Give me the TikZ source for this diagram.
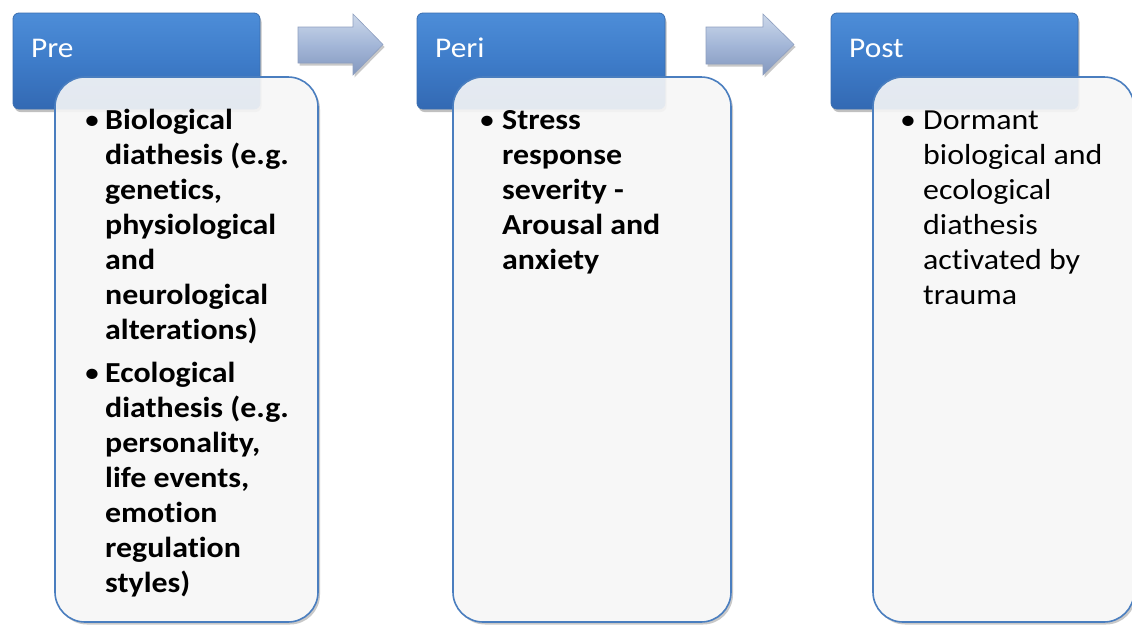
\documentclass[tikz,border=0pt]{standalone}
\usepackage{fontspec}
\setmainfont{Carlito}[Ligatures={NoCommon}, FakeStretch=1.1]
\usetikzlibrary{shadows}
\definecolor{hdrtop}{HTML}{4D8DD8}
\definecolor{hdrmid}{HTML}{3E7CC9}
\definecolor{hdrbot}{HTML}{3369B3}
\definecolor{hdrline}{HTML}{3A6EB0}
\definecolor{boxfill}{HTML}{F7F7F7}
\definecolor{boxline}{HTML}{4A7EBF}
\definecolor{arrtop}{HTML}{CCD8EA}
\definecolor{arrmid}{HTML}{A4B7D8}
\definecolor{arrbot}{HTML}{8398BE}
\definecolor{arrline}{HTML}{8E9FC0}
\tikzset{
  hdrbox/.style={rounded corners=6pt, draw=hdrline, line width=0.8pt,
    top color=hdrtop, bottom color=hdrbot, middle color=hdrmid,
    drop shadow={shadow xshift=1.5pt, shadow yshift=-3pt, opacity=0.35, fill=black!70}},
  bodybase/.style={rounded corners=30pt, fill=boxfill,
    drop shadow={shadow xshift=2pt, shadow yshift=-2.5pt, opacity=0.3, fill=black!70}},
  bodybox/.style={rounded corners=30pt, draw=boxline, line width=1.6pt,
    fill=boxfill, fill opacity=0.9},
  flowarrow/.style={draw=arrline, line width=0.6pt, top color=arrtop, bottom color=arrbot, middle color=arrmid,
    drop shadow={shadow xshift=1.5pt, shadow yshift=-2.5pt, opacity=0.3, fill=black!70}},
  hdrtext/.style={anchor=base west, inner sep=0pt, text=white, font=\fontsize{28.5}{35}\selectfont},
  bodytext/.style={anchor=base west, inner sep=0pt, text=black, font=\fontsize{29}{35}\selectfont},
  bodybold/.style={bodytext, font=\fontsize{29}{35}\selectfont\bfseries},
  bulletmark/.style={anchor=base, inner sep=0pt, text=black, font=\fontsize{29}{35}\selectfont},
}
\begin{document}
\begin{tikzpicture}[x=1pt, y=-1pt]
\useasboundingbox (0,0) rectangle (1132,624);
\fill[white] (0,0) rectangle (1132,624);

% opaque base of body boxes (with shadows)
\path[bodybase] (55,77) rectangle (318,622);
\path[bodybase] (453,77) rectangle (731,622);
\path[bodybase] (873,77) rectangle (1134,622);

% headers
\path[hdrbox] (13,13) rectangle (260,109);
\path[hdrbox] (417,13) rectangle (665,109);
\path[hdrbox] (831,13) rectangle (1078,109);

% arrows
\path[flowarrow] (298,27) -- (353,27) -- (353,14) -- (383,44.5) -- (353,75) -- (353,63) -- (298,63) -- cycle;
\path[flowarrow] (706,27) -- (763,27) -- (763,14) -- (794,44.5) -- (763,75) -- (763,64) -- (706,64) -- cycle;

% header texts
\node[hdrtext] (preh) at (31,57) {Pre};
\node[hdrtext] (perih) at (435,57) {Peri};
\node[hdrtext] (posth) at (849,57) {Post};

% body boxes (translucent, over headers)
\path[bodybox] (55,77) rectangle (318,622);
\path[bodybox] (453,77) rectangle (731,622);
\path[bodybox] (873,77) rectangle (1134,622);

% Pre text
\node[bulletmark] (preb1) at (92,129) {\textbullet};
\foreach \t [count=\i from 0] in {Biological,diathesis (e.g.,genetics{,},physiological,and,neurological,alterations)}
  \node[bodybold] (pa\i) at (105,129+35*\i) {\t};
\node[bulletmark] (preb2) at (92,382) {\textbullet};
\foreach \t [count=\i from 0] in {Ecological,diathesis (e.g.,personality{,},life events{,},emotion,regulation,styles)}
  \node[bodybold] (pb\i) at (105,382+35*\i) {\t};

% Peri text
\node[bulletmark] (perib1) at (487,129) {\textbullet};
\foreach \t [count=\i from 0] in {Stress,response,severity -,Arousal and,anxiety}
  \node[bodybold] (pc\i) at (502,129+35*\i) {\t};

% Post text
\node[bulletmark] (postb1) at (908,129) {\textbullet};
\foreach \t [count=\i from 0] in {Dormant,biological and,ecological,diathesis,activated by,trauma}
  \node[bodytext] (pd\i) at (923,129+35*\i) {\t};
\end{tikzpicture}
\end{document}
